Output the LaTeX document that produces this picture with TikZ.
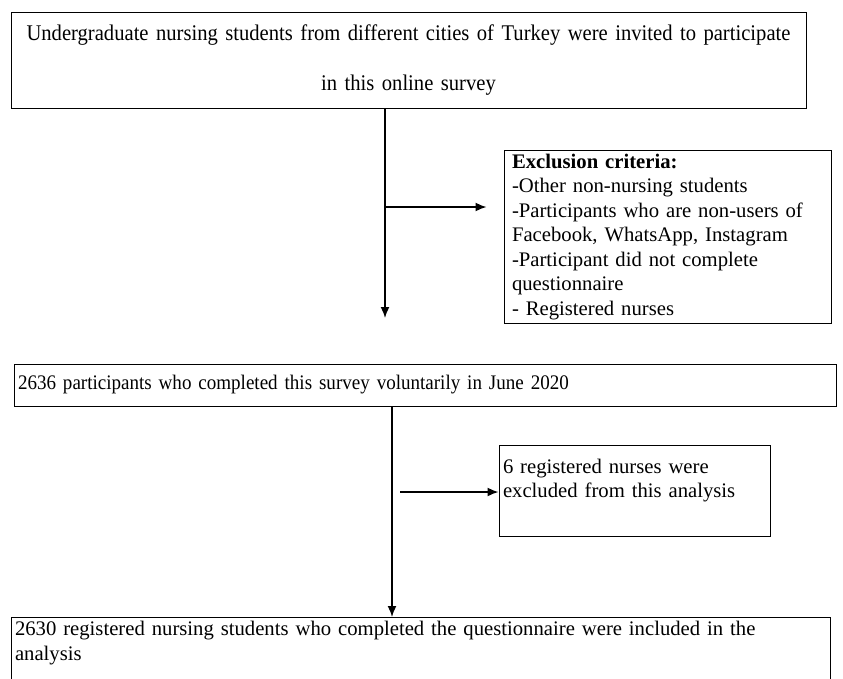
\documentclass[tikz,border=0pt]{standalone}
\usepackage{fontspec}
\setmainfont{Liberation Serif}
\newfontfamily\narrowserif[FakeStretch=0.92]{Liberation Serif}
\usetikzlibrary{positioning,arrows.meta}
\begin{document}
\begin{tikzpicture}[x=1pt,y=-1pt,
  box/.style={draw,rectangle,line width=1pt,inner sep=4pt,align=left,
    font=\fontsize{20.7}{24.5}\selectfont},
  flow/.style={line width=1.6pt,-{Latex[length=11pt,width=9pt]}}]
\useasboundingbox (0,0) rectangle (843,678);
\node[box,align=center,font=\narrowserif\fontsize{22.4}{24.5}\selectfont,text width=787pt,minimum height=96pt] (invited) at (408.5,60)
  {Undergraduate nursing students from different cities of Turkey were invited to participate\\[25pt]
   in this online survey};
\node[box,inner xsep=8pt,text width=311pt,minimum height=170pt] (criteria) at (667.5,237)
  {\textbf{Exclusion criteria:}\\
   -Other non-nursing students\\
   -Participants who are non-users of\\
   Facebook, WhatsApp, Instagram\\
   -Participant did not complete\\
   questionnaire\\
   - Registered nurses};
\node[box,font=\narrowserif\fontsize{20.7}{24.5}\selectfont,text width=814pt,minimum height=42pt] (completed) at (425,385)
  {2636 participants who completed this survey voluntarily in June 2020};
\node[box,text width=263pt,minimum height=91pt] (nurses) at (634.5,490.5)
  {6 registered nurses were\\
   excluded from this analysis\\
   \mbox{}};
\node[box,anchor=north,text width=811pt] (included) at (420.5,617)
  {2630 registered nursing students who completed the questionnaire were included in the\\
   analysis\\
   \mbox{}\\
   \mbox{}};
\coordinate (stop1) at (385,318);
\coordinate (split1) at (385,207);
\coordinate (split2) at (400,492);
\draw[flow] (invited.south -| stop1) -- (stop1);
\draw[flow,shorten >=17pt] (split1) -- (split1 -| criteria.west);
\draw[flow] ([xshift=-33pt]completed.south) -- ([xshift=-33pt]completed.south |- included.north);
\draw[flow] (split2) -- (split2 -| nurses.west);
\end{tikzpicture}
\end{document}
